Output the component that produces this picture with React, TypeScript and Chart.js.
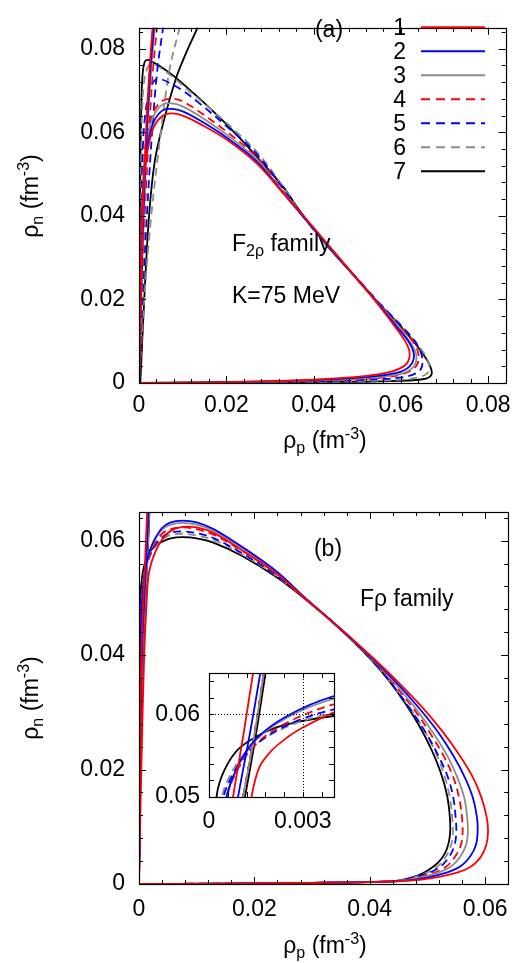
import { useEffect, useRef } from "react";
import { Chart, registerables } from "chart.js";
Chart.register(...registerables);

const FONT = "'Liberation Sans', Arial, Helvetica, sans-serif";

const SERIES_LABELS = ["1", "2", "3", "4", "5", "6", "7"];
const SERIES_COLORS = ["#ff0000", "#0000ff", "#8c8c8c", "#ff0000", "#0000ff", "#8c8c8c", "#000000"];
const SERIES_DASHED = [false, false, false, true, true, true, false];

// ---- ticks ----
const A_X_TICKS = [0, 0.02, 0.04, 0.06, 0.08];
const A_Y_TICKS = [0, 0.02, 0.04, 0.06, 0.08];
const A_X_LABELS = ["0", "0.02", "0.04", "0.06", "0.08"];
const A_Y_LABELS = ["0", "0.02", "0.04", "0.06", "0.08"];
const B_X_TICKS = [0, 0.02, 0.04, 0.06];
const B_Y_TICKS = [0, 0.02, 0.04, 0.06];
const B_X_LABELS = ["0", "0.02", "0.04", "0.06"];
const B_Y_LABELS = ["0", "0.02", "0.04", "0.06"];
const MINOR_STEP_MAIN = 0.004;
const IN_X_TICKS = [0, 0.003];
const IN_X_LABELS = ["0", "0.003"];
const IN_Y_TICKS = [0.05, 0.06];
const IN_Y_LABELS = ["0.05", "0.06"];
const IN_X_MINOR = 0.0006;
const IN_Y_MINOR = 0.002;

// ---- panel (a): F2rho family, values in 1e-3 fm^-3 : [rho_p, rho_n] ----
const A1_LOOP = [[0,0],[0.15,8],[0.3,18],[0.5,30],[0.8,42],[1.3,51],[2.2,57],[3.5,61.5],[5.5,64],[7.5,64.5],[10,64],[14,62],[20,58.3],[27,52.5],[33,45.5],[37,40.8],[43,33.5],[50,24.8],[55,18.5],[59,13],[61.5,9],[62,6.5],[61,4.3],[58,2.8],[52,1.7],[42,0.9],[30,0.45],[15,0.15],[0,0]];
const A2_LOOP = [[0,0],[0.15,9],[0.3,19],[0.5,31],[0.8,43],[1.3,52],[2.2,58.3],[3.5,62.8],[5.5,65.3],[7.5,65.6],[10,65],[14,62.8],[20,58.8],[27,53],[33,45.5],[37,40.6],[43,33.3],[50,24.8],[55,18.7],[59,13.5],[62,9.5],[63,6.5],[62,4],[59,2.4],[52,1.4],[42,0.8],[30,0.4],[15,0.15],[0,0]];
const A3_LOOP = [[0,0],[0.15,9],[0.3,20],[0.5,32],[0.8,45],[1.3,54],[2.2,60],[3.5,64.3],[5.5,66.7],[7.5,66.9],[10,66.2],[14,63.8],[20,59.5],[27,53.5],[33,45.7],[37,40.6],[43,33.2],[50,24.8],[55,18.8],[59,14],[62,10],[63.5,6.8],[63,4],[60,2.2],[52,1.2],[42,0.7],[30,0.35],[15,0.12],[0,0]];
const A4_LOOP = [[0,0],[0.15,9],[0.3,20],[0.5,33],[0.8,46],[1.3,55],[2.2,61],[3.5,65.3],[5.5,67.6],[7.8,68],[10,67.4],[14,64.8],[20,60.2],[27,54],[33,46],[37,40.6],[43,33.2],[50,25],[55,19],[59,14.3],[62.5,10.3],[64,7],[63.5,4],[60,2],[52,1],[42,0.6],[30,0.3],[15,0.1],[0,0]];
const A5_LOOP = [[0,0],[0.15,12],[0.3,25],[0.5,40],[0.8,54],[1.3,63],[2.2,69],[3.5,72.3],[5,72.7],[7.5,71.5],[10,70],[14,66.8],[20,61.5],[27,54.8],[33,46.5],[37,40.6],[43,33],[50,25],[55,19.2],[59.5,14.3],[63,10.3],[64.8,6.5],[64.5,3.2],[61,1.5],[52,0.8],[42,0.45],[30,0.25],[15,0.1],[0,0]];
const A6_LOOP = [[0,0],[0.1,15],[0.25,35],[0.5,55],[0.8,67],[1.3,73],[2.2,76],[3.5,76.2],[5.5,75],[8,73],[11,70.3],[15,66.8],[20,62.3],[27,55.3],[33,47],[37,40.8],[43,33],[50,25],[55,19.2],[60,13.8],[64,9],[66.3,5],[66,2.3],[62,1],[52,0.5],[42,0.3],[30,0.2],[15,0.1],[0,0]];
const A7_LOOP = [[0,0],[0.1,20],[0.25,45],[0.5,65],[0.8,73.5],[1.3,76.8],[2,77.3],[3.5,76.6],[5.5,75.3],[8.5,73],[12,69.8],[16,66],[22,59.8],[28,53],[33,47],[37,41],[43,33],[50,24.8],[55,19],[60,13.5],[64,8.5],[66.5,4.5],[67,2],[65,0.9],[55,0.4],[42,0.25],[30,0.15],[15,0.05],[0,0]];
const A1_BRANCH = [[0,0],[0.4,20],[0.9,40],[1.6,60],[2.4,75],[3.1,85],[3.3,88]];
const A2_BRANCH = [[0,0],[0.45,20],[1.0,40],[1.8,60],[2.6,75],[3.4,85],[3.6,88]];
const A3_BRANCH = [[0,0],[0.5,20],[1.1,40],[1.9,60],[2.8,75],[3.6,85],[3.8,88]];
const A4_BRANCH = [[0,0],[0.6,20],[1.3,40],[2.3,60],[3.2,75],[4.1,85],[4.3,88]];
const A5_BRANCH = [[0,0],[0.8,20],[1.8,40],[3,60],[4.2,75],[5.5,85],[5.8,88]];
const A6_BRANCH = [[0,0],[1.2,20],[2.8,40],[5,60],[7,75],[9.3,85],[10,88]];
const A7_BRANCH = [[0.3,0],[1.2,20],[2.3,40],[3.6,53],[5.5,62],[8.5,73],[10.8,79],[13.3,84.8],[14,87]];

// ---- panel (b): F rho family ----
const B1_LOOP = [[0,0],[0.4,20],[0.9,40],[1.36,50],[1.6,53.5],[2,55.6],[2.5,57.2],[3,58.4],[4,60.2],[5.5,61.7],[7.5,62.4],[10,62.3],[13,61.3],[17.9,58.3],[24,54.1],[28.9,49.8],[33,46.3],[37,42.8],[41,39.1],[45,35.2],[49,31],[52.5,26.8],[55.5,22.6],[57.8,18.8],[59.4,15],[60.3,11.5],[60.5,9],[60.2,6.8],[59.3,4.8],[57.5,3],[54.5,1.8],[49,0.75],[42,0.4],[30,0.2],[15,0.08],[0,0]];
const B2_LOOP = [[0,0],[0.1,20],[0.25,40],[0.5,49],[0.9,53.6],[1.5,57],[2.5,59.8],[4,62.2],[5.5,63.2],[7.5,63.5],[10,63.2],[13,62],[17.9,58.9],[24,54.5],[28.9,49.9],[33,46.3],[37,42.7],[41,38.9],[44.8,35],[48.5,30.8],[51.8,26.6],[54.5,22.4],[56.5,18.6],[57.9,15],[58.6,11.5],[58.7,9],[58.4,6.8],[57.4,4.8],[55.6,3],[52.7,1.8],[47.5,0.7],[40,0.35],[30,0.2],[15,0.08],[0,0]];
const B3_LOOP = [[0,0],[0.1,20],[0.25,40],[0.5,49],[0.9,53.5],[1.5,56.9],[2.5,59.6],[4,61.9],[5.5,62.8],[7.5,63.1],[10,62.8],[13,61.7],[17.9,58.7],[24,54.4],[28.9,49.9],[33,46.3],[37,42.7],[40.9,38.9],[44.5,34.9],[48,30.6],[51,26.4],[53.5,22.3],[55.2,18.6],[56.4,15],[56.9,11.5],[57,9],[56.7,6.8],[55.7,4.8],[54,3],[51.3,1.8],[46.5,0.7],[40,0.35],[30,0.2],[15,0.08],[0,0]];
const B4_LOOP = [[0,0],[0.1,20],[0.25,40],[0.5,49],[0.9,53.2],[1.5,56.4],[2.5,59],[4,61.2],[5.5,62],[7.5,62.3],[10,62],[13,61],[17.9,58.2],[24,54.1],[28.9,49.8],[33,46.3],[37,42.6],[40.8,38.9],[44.3,34.8],[47.7,30.5],[50.5,26.3],[52.9,22.2],[54.5,18.6],[55.5,15],[56,11.5],[56.1,9],[55.8,6.8],[54.8,4.8],[53.2,3],[50.6,1.8],[46,0.65],[40,0.35],[30,0.2],[15,0.08],[0,0]];
const B5_LOOP = [[0,0],[0.1,20],[0.25,40],[0.4,49],[0.8,53],[1.4,56],[2.5,58.7],[4,60.6],[5.5,61.4],[7.5,61.6],[10,61.3],[13,60.4],[17.9,57.8],[24,53.8],[28.9,49.8],[33,46.3],[37,42.6],[40.7,38.9],[44,34.7],[47.2,30.3],[49.9,26.1],[52.1,22],[53.6,18.5],[54.5,15],[54.9,11.5],[55,9],[54.7,6.8],[53.8,4.8],[52.2,3],[49.6,1.7],[45.2,0.6],[40,0.35],[30,0.2],[15,0.08],[0,0]];
const B6_LOOP = [[0,0],[0.1,20],[0.2,40],[0.35,49],[0.7,52.8],[1.3,55.8],[2.5,58.5],[4,60.2],[5.5,61],[7.5,61.2],[10,60.9],[13,60.1],[17.9,57.6],[24,53.7],[28.9,49.8],[33,46.2],[37,42.5],[40.6,38.9],[43.8,35],[46.8,31],[49.5,26.8],[51.5,22.8],[53,18.8],[53.9,15],[54.3,11.5],[54.4,9],[54.1,6.8],[53.2,4.8],[51.7,3],[49,1.6],[44.8,0.55],[40,0.35],[30,0.2],[15,0.08],[0,0]];
const B7_LOOP = [[0,0],[0.05,20],[0.1,40],[0.24,50],[0.5,53.3],[1,56],[2,58.2],[3,59.2],[4,59.8],[5.5,60.4],[7.5,60.6],[10,60.4],[13,59.6],[17.9,57.3],[24,53.5],[28.9,49.7],[33,46.2],[37,42.5],[40.5,38.9],[43.5,35.3],[46.2,31.5],[48.6,27.6],[50.7,23.5],[52.3,19.5],[53.4,15.5],[53.9,11.5],[53.9,8.5],[53.4,6.2],[52.5,4.5],[51,3],[48.4,1.5],[44.4,0.5],[40,0.35],[30,0.2],[15,0.08],[0,0]];
const B1_BRANCH = [[0,0],[0.15,20],[0.4,40],[0.77,50],[1.1,57.5],[1.41,65],[1.5,67]];
const B2_BRANCH = [[0,0],[0.2,20],[0.5,40],[0.93,50],[1.3,57.5],[1.64,65],[1.7,67]];
const B3_BRANCH = [[0,0],[0.25,20],[0.6,40],[1.09,50],[1.45,57.5],[1.75,65],[1.8,67]];
const B4_BRANCH = [[0,0],[0.25,20],[0.6,40],[1.09,50],[1.45,57.5],[1.75,65],[1.8,67]];
const B5_BRANCH = [[0,0],[0.25,20],[0.6,40],[1.09,50],[1.45,57.5],[1.75,65],[1.8,67]];
const B6_BRANCH = [[0,0],[0.25,20],[0.6,40],[1.09,50],[1.45,57.5],[1.75,65],[1.8,67]];
const B7_BRANCH = [[0,0],[0.25,20],[0.65,40],[1.15,50],[1.5,57.5],[1.81,65],[1.9,67]];

const A_LOOPS = [A1_LOOP, A2_LOOP, A3_LOOP, A4_LOOP, A5_LOOP, A6_LOOP, A7_LOOP];
const A_BRANCHES = [A1_BRANCH, A2_BRANCH, A3_BRANCH, A4_BRANCH, A5_BRANCH, A6_BRANCH, A7_BRANCH];
const B_LOOPS = [B1_LOOP, B2_LOOP, B3_LOOP, B4_LOOP, B5_LOOP, B6_LOOP, B7_LOOP];
const B_BRANCHES = [B1_BRANCH, B2_BRANCH, B3_BRANCH, B4_BRANCH, B5_BRANCH, B6_BRANCH, B7_BRANCH];

const UNIT = 1e-3;

type Part = { t: string; s?: number; dy?: number };

function drawRich(ctx: CanvasRenderingContext2D, x: number, y: number, parts: Part[], align: "left" | "center" | "right", rotate = false) {
  ctx.save();
  ctx.fillStyle = "#000";
  ctx.textBaseline = "alphabetic";
  ctx.textAlign = "left";
  let w = 0;
  for (const p of parts) {
    ctx.font = `${p.s ?? 23}px ${FONT}`;
    w += ctx.measureText(p.t).width;
  }
  ctx.translate(x, y);
  if (rotate) ctx.rotate(-Math.PI / 2);
  let cx = align === "left" ? 0 : align === "center" ? -w / 2 : -w;
  for (const p of parts) {
    ctx.font = `${p.s ?? 23}px ${FONT}`;
    ctx.fillText(p.t, cx, p.dy ?? 0);
    cx += ctx.measureText(p.t).width;
  }
  ctx.restore();
}

function minorList(min: number, max: number, step: number) {
  const out: number[] = [];
  const n = Math.floor((max - min) / step + 1e-9);
  for (let i = 0; i <= n; i++) out.push(min + i * step);
  return out;
}

const framePlugin = {
  id: "frameTicks",
  afterDatasetsDraw(chart: any, _a: any, opts: any) {
    const { ctx, chartArea: a, scales } = chart;
    const xs = scales.x, ys = scales.y;
    ctx.save();
    ctx.strokeStyle = "#000";
    ctx.lineWidth = 1;
    if (opts.gridX) {
      ctx.setLineDash([1, 2]);
      for (const v of opts.gridX) {
        const px = Math.round(xs.getPixelForValue(v)) + 0.5;
        ctx.beginPath(); ctx.moveTo(px, a.top); ctx.lineTo(px, a.bottom); ctx.stroke();
      }
      for (const v of opts.gridY) {
        const py = Math.round(ys.getPixelForValue(v)) + 0.5;
        ctx.beginPath(); ctx.moveTo(a.left, py); ctx.lineTo(a.right, py); ctx.stroke();
      }
      ctx.setLineDash([]);
    }
    const tick = (vals: number[], len: number, horiz: boolean) => {
      for (const v of vals) {
        if (horiz) {
          const px = Math.round(xs.getPixelForValue(v)) + 0.5;
          ctx.beginPath();
          ctx.moveTo(px, a.bottom); ctx.lineTo(px, a.bottom - len);
          ctx.moveTo(px, a.top); ctx.lineTo(px, a.top + len);
          ctx.stroke();
        } else {
          const py = Math.round(ys.getPixelForValue(v)) + 0.5;
          ctx.beginPath();
          ctx.moveTo(a.left, py); ctx.lineTo(a.left + len, py);
          ctx.moveTo(a.right, py); ctx.lineTo(a.right - len, py);
          ctx.stroke();
        }
      }
    };
    tick(minorList(xs.min, xs.max, opts.minorX), opts.minorLen, true);
    tick(minorList(ys.min, ys.max, opts.minorY), opts.minorLen, false);
    tick(opts.majorX, opts.majorLen, true);
    tick(opts.majorY, opts.majorLen, false);
    ctx.lineWidth = 1.2;
    ctx.strokeRect(Math.round(a.left) + 0.5, Math.round(a.top) + 0.5, Math.round(a.right - a.left), Math.round(a.bottom - a.top));
    ctx.restore();
  },
};

const bgPlugin = {
  id: "areaBg",
  beforeDatasetsDraw(chart: any, _a: any, opts: any) {
    if (!opts.color) return;
    const { ctx, chartArea: a } = chart;
    ctx.save();
    ctx.fillStyle = opts.color;
    ctx.fillRect(a.left, a.top, a.right - a.left, a.bottom - a.top);
    ctx.restore();
  },
};

const textPlugin = {
  id: "richText",
  afterDraw(chart: any, _a: any, opts: any) {
    const { ctx } = chart;
    for (const t of opts.items || []) drawRich(ctx, t.x, t.y, t.parts, t.align, t.rotate);
    if (opts.legend) {
      const L = opts.legend;
      ctx.save();
      SERIES_LABELS.forEach((lab, i) => {
        ctx.fillStyle = "#000";
        ctx.font = `23px ${FONT}`;
        ctx.textAlign = "right";
        ctx.textBaseline = "alphabetic";
        ctx.fillText(lab, L.textX, L.baseY + i * L.dy);
        ctx.strokeStyle = SERIES_COLORS[i];
        ctx.lineWidth = 2;
        ctx.setLineDash(SERIES_DASHED[i] ? [9, 6] : []);
        ctx.beginPath();
        const ly = L.lineY + i * L.dy;
        ctx.moveTo(L.x1, ly); ctx.lineTo(L.x2, ly);
        ctx.stroke();
      });
      ctx.restore();
    }
  },
};

function makeDatasets(loops: number[][][], branches: number[][][]) {
  const ds: any[] = [];
  for (let i = 0; i < loops.length; i++) {
    for (const arr of [branches[i], loops[i]]) {
      ds.push({
        label: SERIES_LABELS[i],
        data: arr.map(([x, y]) => ({ x: x * UNIT, y: y * UNIT })),
        borderColor: SERIES_COLORS[i],
        borderWidth: 1.8,
        borderDash: SERIES_DASHED[i] ? [8, 5] : [],
        showLine: true,
        pointRadius: 0,
        tension: 0.35,
        fill: false,
      });
    }
  }
  return ds;
}

function axis(min: number, max: number, ticks: number[], labels: string[], size: number, padding: number, horiz: boolean) {
  return {
    type: "linear",
    min, max,
    afterFit: (s: any) => { if (horiz) s.height = size; else s.width = size; },
    afterBuildTicks: (s: any) => { s.ticks = ticks.map((v) => ({ value: v })); },
    ticks: {
      callback: (v: number) => {
        const i = ticks.findIndex((t) => Math.abs(t - v) < 1e-9);
        return i >= 0 ? labels[i] : "";
      },
      font: { family: FONT, size: 23 },
      color: "#000",
      padding,
      maxRotation: 0,
      minRotation: 0,
      autoSkip: false,
    },
    grid: { display: false, drawTicks: false },
    border: { display: false },
  };
}

function baseOptions(extra: any) {
  return {
    responsive: false,
    animation: false,
    events: [],
    plugins: { legend: { display: false }, tooltip: { enabled: false } },
    ...extra,
  };
}

const yTitle = (cy: number) => ({
  x: 38, y: cy, align: "center", rotate: true,
  parts: [{ t: "ρ" }, { t: "n", s: 16, dy: 5 }, { t: " (fm" }, { t: "-3", s: 16, dy: -9 }, { t: ")" }],
});
const xTitle = (cy: number) => ({
  x: 325, y: cy, align: "center",
  parts: [{ t: "ρ" }, { t: "p", s: 16, dy: 5 }, { t: " (fm" }, { t: "-3", s: 16, dy: -9 }, { t: ")" }],
});

export default function App() {
  const refA = useRef<HTMLCanvasElement>(null);
  const refB = useRef<HTMLCanvasElement>(null);
  const refC = useRef<HTMLCanvasElement>(null);

  useEffect(() => {
    const charts: Chart[] = [];
    charts.push(new Chart(refA.current!, {
      type: "scatter",
      data: { datasets: makeDatasets(A_LOOPS, A_BRANCHES) },
      options: baseOptions({
        layout: { padding: { left: 0, top: 9, right: 9, bottom: 520 } },
        scales: {
          x: axis(0, 0.084, A_X_TICKS, A_X_LABELS, 60, 9, true),
          y: axis(0, 0.085, A_Y_TICKS, A_Y_LABELS, 139, 14, false),
        },
        plugins: {
          legend: { display: false }, tooltip: { enabled: false },
          frameTicks: { majorX: A_X_TICKS, majorY: A_Y_TICKS, minorX: MINOR_STEP_MAIN, minorY: MINOR_STEP_MAIN, majorLen: 7, minorLen: 4 },
          richText: {
            items: [
              { x: 329, y: 37, align: "center", parts: [{ t: "(a)" }] },
              { x: 232, y: 251, align: "left", parts: [{ t: "F" }, { t: "2ρ", s: 16, dy: 5 }, { t: " family" }] },
              { x: 232, y: 303, align: "left", parts: [{ t: "K=75 MeV" }] },
              xTitle(448),
              yTitle(196),
            ],
            legend: { textX: 406, baseY: 35, dy: 24, lineY: 27.3, x1: 421, x2: 485 },
          },
        },
      }),
      plugins: [framePlugin, textPlugin],
    } as any));

    charts.push(new Chart(refB.current!, {
      type: "scatter",
      data: { datasets: makeDatasets(B_LOOPS, B_BRANCHES) },
      options: baseOptions({
        layout: { padding: { left: 0, top: 512, right: 8, bottom: 19 } },
        scales: {
          x: axis(0, 0.064, B_X_TICKS, B_X_LABELS, 60, 12, true),
          y: axis(0, 0.065, B_Y_TICKS, B_Y_LABELS, 139, 14, false),
        },
        plugins: {
          legend: { display: false }, tooltip: { enabled: false },
          frameTicks: { majorX: B_X_TICKS, majorY: B_Y_TICKS, minorX: MINOR_STEP_MAIN, minorY: MINOR_STEP_MAIN, majorLen: 7, minorLen: 4 },
          richText: {
            items: [
              { x: 328, y: 556, align: "center", parts: [{ t: "(b)" }] },
              { x: 360, y: 606, align: "left", parts: [{ t: "Fρ family" }] },
              xTitle(953),
              yTitle(698),
            ],
          },
        },
      }),
      plugins: [framePlugin, textPlugin],
    } as any));

    charts.push(new Chart(refC.current!, {
      type: "scatter",
      data: { datasets: makeDatasets(B_LOOPS, B_BRANCHES) },
      options: baseOptions({
        layout: { padding: { left: 0, top: 673, right: 520 - 334, bottom: 963 - 797 - 40 } },
        scales: {
          x: axis(0, 0.004, IN_X_TICKS, IN_X_LABELS, 40, 11, true),
          y: axis(0.05, 0.065, IN_Y_TICKS, IN_Y_LABELS, 209, 9, false),
        },
        plugins: {
          legend: { display: false }, tooltip: { enabled: false },
          areaBg: { color: "#ffffff" },
          frameTicks: { majorX: IN_X_TICKS, majorY: IN_Y_TICKS, minorX: IN_X_MINOR, minorY: IN_Y_MINOR, majorLen: 5, minorLen: 5, gridX: [0.003], gridY: [0.06] },
        },
      }),
      plugins: [bgPlugin, framePlugin],
    } as any));

    return () => charts.forEach((c) => c.destroy());
  }, []);

  const cs: any = { position: "absolute", left: 0, top: 0 };
  return (
    <div style={{ position: "fixed", left: 0, top: 0, width: 520, height: 963, background: "#fff" }}>
      <canvas ref={refA} width={520} height={963} style={cs} />
      <canvas ref={refB} width={520} height={963} style={cs} />
      <canvas ref={refC} width={520} height={963} style={cs} />
    </div>
  );
}
